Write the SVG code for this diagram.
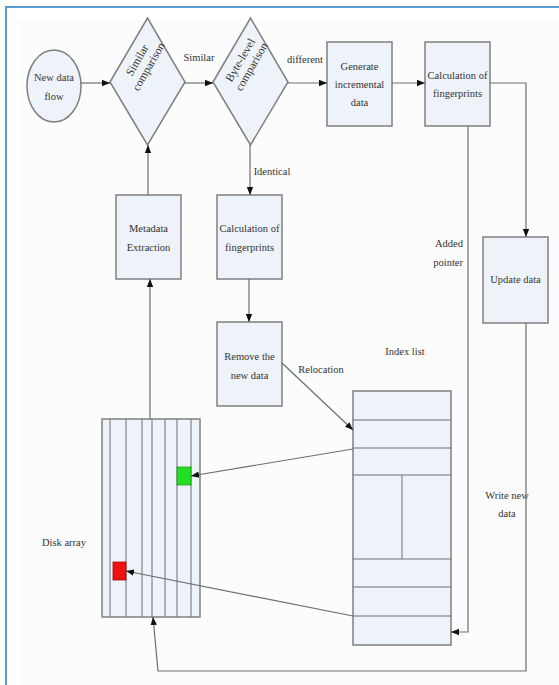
<svg xmlns="http://www.w3.org/2000/svg" width="559" height="685" viewBox="0 0 559 685">
<style>
.n{fill:#eef3fa;stroke:#7f7f7f;stroke-width:1.5}
.t{font-family:"Liberation Serif","Times New Roman",serif;font-size:10.5px;fill:#333;text-anchor:middle}
.c{fill:none;stroke:#6e6e6e;stroke-width:1.2}
.g{stroke:#6e6e6e;stroke-width:1}
</style>
<defs>
<marker id="a" viewBox="0 0 10 10" refX="10" refY="5" markerWidth="8" markerHeight="8" markerUnits="userSpaceOnUse" orient="auto"><path d="M0,1 L10,5 L0,9 Z" fill="#111"/></marker>
</defs>
<rect x="0" y="0" width="559" height="685" fill="#fff"/>
<rect x="18" y="20" width="541" height="665" fill="#fcfcfc"/>
<path d="M6,685 V7 H559" fill="none" stroke="#5b9bd5" stroke-width="2"/>

<g id="new-data-flow">
<ellipse class="n" cx="54" cy="86" rx="27" ry="36"/>
<text class="t" x="54" y="81">New data</text>
<text class="t" x="54" y="100">flow</text>
</g>

<g id="similar-comparison">
<polygon class="n" points="110,82 147.5,18 185,82 147.5,145"/>
<g transform="rotate(-60 144 64)">
<text class="t" x="144" y="60" style="font-size:11.5px">Similar</text>
<text class="t" x="144" y="73" style="font-size:11.5px">comparison</text>
</g>
</g>

<g id="byte-level-comparison">
<polygon class="n" points="213,82 250.5,18 288,82 250.5,145"/>
<g transform="rotate(-60 247 64)">
<text class="t" x="247" y="60" style="font-size:11.5px">Byte-level</text>
<text class="t" x="247" y="73" style="font-size:11.5px">comparison</text>
</g>
</g>

<g id="generate-incremental-data">
<rect class="n" x="327" y="42" width="65" height="84"/>
<text class="t" x="359.5" y="70">Generate</text>
<text class="t" x="359.5" y="88">incremental</text>
<text class="t" x="359.5" y="106">data</text>
</g>

<g id="calc-fingerprints-top">
<rect class="n" x="425" y="42" width="65" height="84"/>
<text class="t" x="457.5" y="79">Calculation of</text>
<text class="t" x="457.5" y="97">fingerprints</text>
</g>

<g id="metadata-extraction">
<rect class="n" x="116" y="195" width="65" height="84"/>
<text class="t" x="148.5" y="232">Metadata</text>
<text class="t" x="148.5" y="251">Extraction</text>
</g>

<g id="calc-fingerprints-mid">
<rect class="n" x="217" y="195" width="65" height="84"/>
<text class="t" x="249.5" y="232">Calculation of</text>
<text class="t" x="249.5" y="251">fingerprints</text>
</g>

<g id="remove-new-data">
<rect class="n" x="217" y="322" width="65" height="84"/>
<text class="t" x="249.5" y="360">Remove the</text>
<text class="t" x="249.5" y="379">new data</text>
</g>

<g id="update-data">
<rect class="n" x="483" y="237" width="65" height="86"/>
<text class="t" x="515.5" y="283">Update data</text>
</g>

<g id="index-list">
<rect class="n" x="353" y="391" width="98" height="254"/>
<line class="g" x1="353" y1="420" x2="451" y2="420"/>
<line class="g" x1="353" y1="448" x2="451" y2="448"/>
<line class="g" x1="353" y1="475" x2="451" y2="475"/>
<line class="g" x1="353" y1="559" x2="451" y2="559"/>
<line class="g" x1="353" y1="587" x2="451" y2="587"/>
<line class="g" x1="353" y1="616" x2="451" y2="616"/>
<line class="g" x1="402" y1="475" x2="402" y2="559"/>
<text class="t" x="405" y="355">Index list</text>
</g>

<g id="disk-array">
<rect class="n" x="102" y="419" width="98" height="198"/>
<line class="g" x1="110" y1="419" x2="110" y2="617"/>
<line class="g" x1="126" y1="419" x2="126" y2="617"/>
<line class="g" x1="142" y1="419" x2="142" y2="617"/>
<line class="g" x1="152" y1="419" x2="152" y2="617"/>
<line class="g" x1="165" y1="419" x2="165" y2="617"/>
<line class="g" x1="177" y1="419" x2="177" y2="617"/>
<line class="g" x1="191" y1="419" x2="191" y2="617"/>
<rect x="177" y="467" width="14" height="18" fill="#22dd22" stroke="#1a9a1a" stroke-width="0.8"/>
<rect x="113" y="562" width="13" height="18" fill="#ee1111" stroke="#a00" stroke-width="0.8"/>
<text class="t" x="64" y="546">Disk array</text>
</g>

<g id="labels">
<text class="t" x="199" y="61">Similar</text>
<text class="t" x="305" y="63">different</text>
<text class="t" x="272" y="175">Identical</text>
<text class="t" x="321" y="373">Relocation</text>
<text class="t" x="463" y="247" style="text-anchor:end">Added</text>
<text class="t" x="463" y="266" style="text-anchor:end">pointer</text>
<text class="t" x="507" y="499">Write new</text>
<text class="t" x="507" y="517">data</text>
</g>

<g id="connectors">
<path class="c" d="M81,83 H110" marker-end="url(#a)"/>
<path class="c" d="M185,83 H213" marker-end="url(#a)"/>
<path class="c" d="M288,83 H327" marker-end="url(#a)"/>
<path class="c" d="M392,83 H425" marker-end="url(#a)"/>
<path class="c" d="M490,83 H526 V237" marker-end="url(#a)"/>
<path class="c" d="M148,195 V145" marker-end="url(#a)"/>
<path class="c" d="M250,145 V195" marker-end="url(#a)"/>
<path class="c" d="M249,279 V322" marker-end="url(#a)"/>
<path class="c" d="M282,363 L353,430" marker-end="url(#a)"/>
<path class="c" d="M353,449 L191,476" marker-end="url(#a)"/>
<path class="c" d="M353,616 L126,571" marker-end="url(#a)"/>
<path class="c" d="M468,126 V632 H451" marker-end="url(#a)"/>
<path class="c" d="M526,323 V671 H158 L153,617" marker-end="url(#a)"/>
<path class="c" d="M150,419 V279" marker-end="url(#a)"/>
</g>
</svg>
